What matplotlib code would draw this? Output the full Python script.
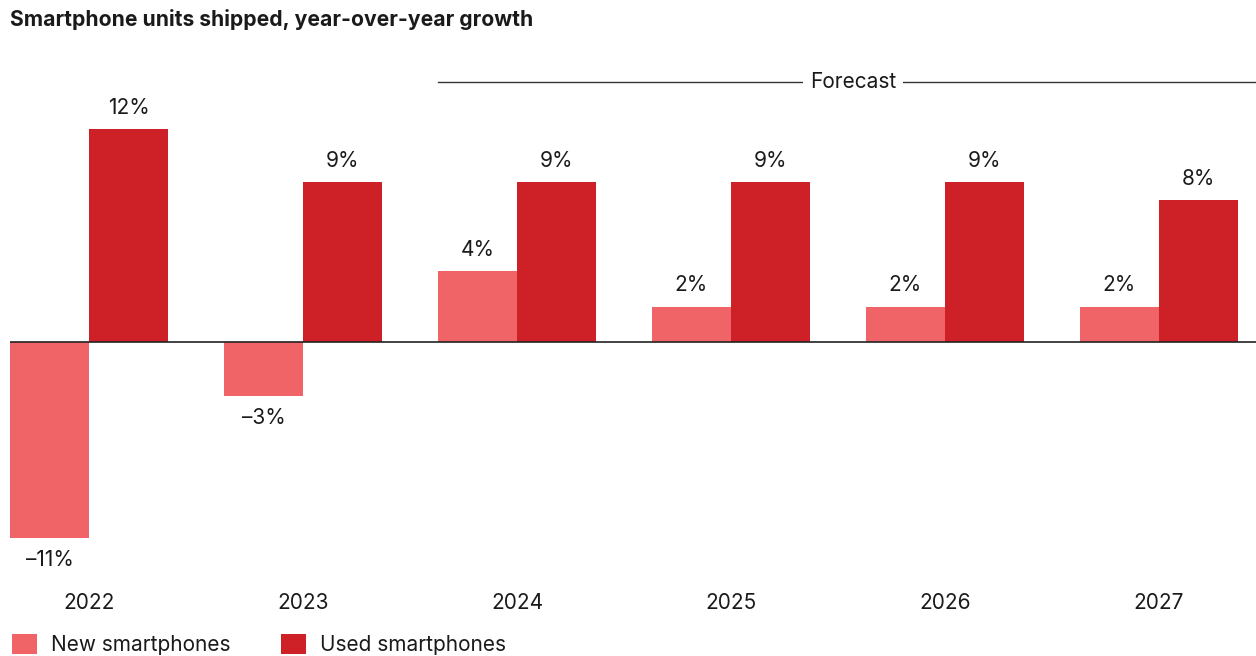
#!/usr/bin/env python3

"""
Smartphone units shipped, year-over-year growth (new vs. used)
"""

import matplotlib.pyplot as plt
from matplotlib.patches import Patch

plt.rcParams['font.family'] = ['Inter', 'DejaVu Sans']

years = ['2022', '2023', '2024', '2025', '2026', '2027']
new_growth = [-11, -3, 4, 2, 2, 2]
used_growth = [12, 9, 9, 9, 9, 8]
series_names = ['New smartphones', 'Used smartphones']
forecast_start = 2  # index of first forecast year

NEW_COLOR = '#F06467'
USED_COLOR = '#CD2027'
TEXT_COLOR = '#1a1a1a'


def pct(v):
    return ('\u2013' if v < 0 else '') + '{}%'.format(abs(v))


def execute():
    W, H = 1256, 656
    fig = plt.figure(figsize=(W / 100, H / 100), dpi=100)
    ax = fig.add_axes([10 / W, 0.153, 1 - 10 / W, 0.678])

    width = 0.37
    x = list(range(len(years)))
    xn = [i - width / 2 for i in x]
    xu = [i + width / 2 for i in x]

    ax.bar(xn, new_growth, width, color=NEW_COLOR, linewidth=0)
    ax.bar(xu, used_growth, width, color=USED_COLOR, linewidth=0)

    for xs, vals in ((xn, new_growth), (xu, used_growth)):
        for xi, v in zip(xs, vals):
            ax.annotate(pct(v), (xi, v), xytext=(0, 8 if v >= 0 else -9),
                        textcoords='offset points', ha='center',
                        va='bottom' if v >= 0 else 'top',
                        fontsize=15, color=TEXT_COLOR)

    ax.axhline(0, color='#222222', lw=1.2, zorder=3)
    ax.set_xlim(-width, len(years) - 1 + width + 18 / 213.8)
    ax.set_ylim(-12, 13)

    ax.set_xticks(x)
    ax.set_xticklabels(years, fontsize=15, color=TEXT_COLOR)
    ax.tick_params(axis='x', length=0, pad=27)
    ax.set_yticks([])
    for s in ax.spines.values():
        s.set_visible(False)

    # forecast bracket over the projected years
    trans = ax.get_xaxis_transform()
    x0 = forecast_start - width
    x1 = ax.get_xlim()[1]
    ax.plot([x0, x1], [1.064, 1.064], transform=trans, color='#333333',
            lw=1.0, clip_on=False)
    ax.text(3.57, 1.064, 'Forecast', transform=trans, ha='center',
            va='center', fontsize=15, color=TEXT_COLOR,
            bbox=dict(facecolor='white', edgecolor='none', pad=5))

    fig.text(10 / W, 1 - 20 / H, 'Smartphone units shipped, year-over-year growth',
             fontsize=15.2, fontweight='bold', color=TEXT_COLOR, va='center')

    handles = [Patch(facecolor=NEW_COLOR), Patch(facecolor=USED_COLOR)]
    fig.legend(handles, series_names, loc='lower left', ncol=2,
               bbox_to_anchor=(12 / W, 1 / H), frameon=False, fontsize=15,
               handlelength=1.2, handleheight=1.1, handletextpad=0.65,
               columnspacing=2.45, borderaxespad=0, borderpad=0,
               labelcolor=TEXT_COLOR)

    fig.savefig('out.png', dpi=100)


if __name__ == '__main__':
    execute()
